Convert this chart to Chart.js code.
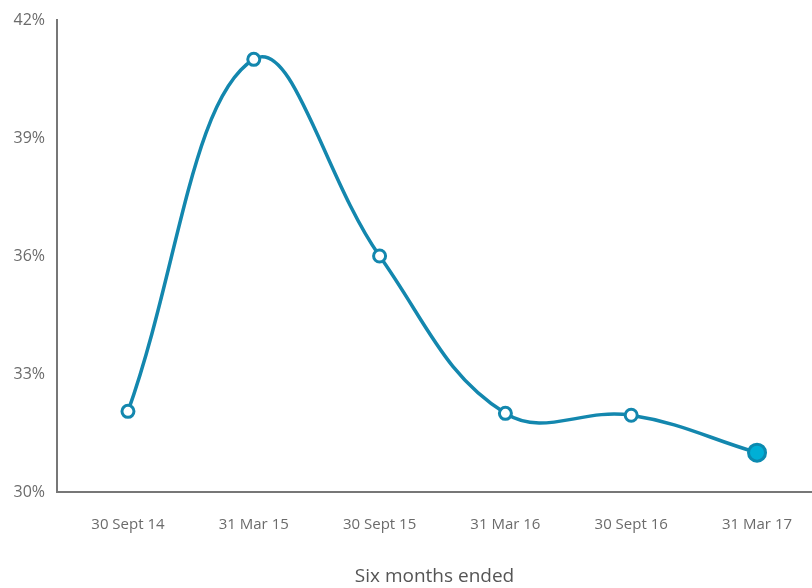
<!DOCTYPE html>
<html lang="en">
<head>
<meta charset="UTF-8">
<title>Six months ended</title>
<script src="https://cdn.jsdelivr.net/npm/chart.js"></script>
<style>
html,body{margin:0;padding:0;background:#fff}
.chart-box{width:812px;height:588px}
</style>
</head>
<body>
<div class="chart-box"><canvas id="lineChart"></canvas></div>
<script>
// data
const periods=['30 Sept 14','31 Mar 15','30 Sept 15','31 Mar 16','30 Sept 16','31 Mar 17'];
const ratio=[32.05,41.0,36.0,32.0,31.95,31.0];
const yTicks=[30,33,36,39,42];

const lineCol='#1387ae', axisCol='#777', txtCol='#6b6b6b';
const font="'Open Sans', 'Noto Sans', sans-serif";
const last=ratio.length-1;

new Chart(document.getElementById('lineChart'),{
    type:'line',
    data:{datasets:[{
        data:ratio.map((v,i)=>({x:i,y:v})),
        borderColor:lineCol,borderWidth:3.5,tension:0.4,fill:false,
        pointRadius:ratio.map((v,i)=>i===last?8.5:6),
        pointBorderWidth:3,
        pointBackgroundColor:ratio.map((v,i)=>i===last?'#00afd6':'#fff'),
        pointBorderColor:ratio.map((v,i)=>i===last?'#0b8ab0':lineCol)
    }]},
    options:{
        responsive:true,maintainAspectRatio:false,animation:false,
        layout:{autoPadding:false,padding:{top:20,right:0,left:0,bottom:0}},
        plugins:{legend:{display:false},tooltip:{enabled:false}},
        scales:{
            x:{type:'linear',min:-0.564,max:5.437,
               grid:{display:false},
               border:{color:axisCol,width:2},
               afterBuildTicks:s=>{s.ticks=periods.map((p,i)=>({value:i}));},
               afterFit:s=>{s.height=96;s.paddingLeft=0;s.paddingRight=0;},
               ticks:{padding:16,maxRotation:0,autoSkip:false,color:txtCol,
                      font:{family:font,size:15},callback:v=>periods[v]},
               title:{display:true,text:'Six months ended',color:'#555',
                      font:{family:font,size:19},padding:{top:0,bottom:0}}},
            y:{min:30,max:42,
               grid:{display:false},
               border:{color:axisCol,width:2},
               afterBuildTicks:s=>{s.ticks=yTicks.map(v=>({value:v}));},
               afterFit:s=>{s.width=57;},
               ticks:{padding:4,color:txtCol,font:{family:font,size:16},callback:v=>v+'%'}}
        }
    }
});
</script>
</body>
</html>
